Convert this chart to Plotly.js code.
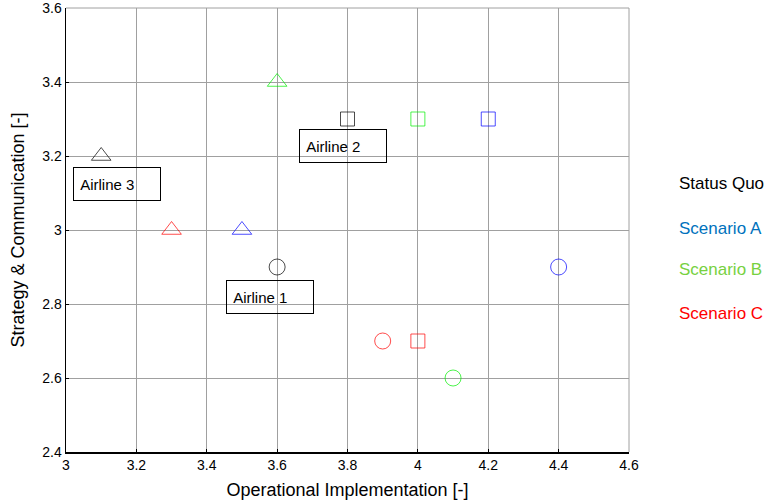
<!DOCTYPE html>
<html>
<head>
<meta charset="utf-8">
<script src="https://cdn.plot.ly/plotly-3.0.1.min.js"></script>
<style>html,body{margin:0;padding:0;background:#fff;}#chart{width:772px;height:503px;}</style>
</head>
<body>
<div id="chart"></div>
<script>
// Airlines: 1 = circle, 2 = square, 3 = triangle
var airlines = ["Airline 1", "Airline 2", "Airline 3"];
var symbols = ["circle-open", "square-open", "triangle-up-open"];
var seriesNames = ["Status Quo", "Scenario A", "Scenario B", "Scenario C"];
var markerColors = ["#000000", "#0000ff", "#00ee00", "#ff0000"];
var legendColors = ["#000000", "#0072BD", "#77d13f", "#ff0000"];

var statusQuoX = [3.6, 3.8, 3.1];
var statusQuoY = [2.9, 3.3, 3.2];
var scenarioAX = [4.4, 4.2, 3.5];
var scenarioAY = [2.9, 3.3, 3.0];
var scenarioBX = [4.1, 4.0, 3.6];
var scenarioBY = [2.6, 3.3, 3.4];
var scenarioCX = [3.9, 4.0, 3.3];
var scenarioCY = [2.7, 2.7, 3.0];

var labelX = [3.581, 3.787, 3.146];
var labelY = [2.82, 3.226, 3.123];

var xs = [statusQuoX, scenarioAX, scenarioBX, scenarioCX];
var ys = [statusQuoY, scenarioAY, scenarioBY, scenarioCY];

var traces = xs.map(function(x, i) {
  return {
    type: "scatter", mode: "markers", name: seriesNames[i],
    x: x, y: ys[i], text: airlines,
    marker: { symbol: symbols, size: [16, 14, 17], color: markerColors[i], line: { width: 1, color: markerColors[i] } },
    showlegend: false
  };
});

var FONT = "Liberation Sans, Arial, sans-serif";
var annotations = [];
airlines.forEach(function(a, i) {
  annotations.push({
    x: labelX[i], y: labelY[i], xref: "x", yref: "y", text: "&nbsp;" + a, showarrow: false,
    width: 82, height: 28, align: "left", bordercolor: "#000", borderwidth: 1, borderpad: 2,
    bgcolor: "rgba(255,255,255,0)",
    font: { family: FONT, size: 15, color: "#000" }
  });
});
var plotTop = 8, plotH = 444, plotL = 66, plotW = 563;
var legendPx = [184, 228, 269, 313];
seriesNames.forEach(function(s, i) {
  annotations.push({
    x: (677 - plotL) / plotW, y: 1 - (legendPx[i] - plotTop) / plotH,
    xref: "paper", yref: "paper", xanchor: "left", yanchor: "middle",
    text: s, showarrow: false,
    font: { family: FONT, size: 17, color: legendColors[i] }
  });
});

var layout = {
  width: 772, height: 503,
  margin: { l: 66, r: 143, t: 8, b: 51 },
  paper_bgcolor: "#fff", plot_bgcolor: "#fff",
  font: { family: FONT, size: 14, color: "#000" },
  xaxis: {
    range: [3, 4.6], dtick: 0.2, tick0: 3, showgrid: true, gridcolor: "#a0a0a0", gridwidth: 1,
    zeroline: false, showline: true, linecolor: "#000", linewidth: 1.5, mirror: false,
    ticks: "inside", ticklen: 3, tickcolor: "#000", ticklabeloverflow: "allow",
    tickfont: { size: 14 },
    title: { text: "Operational Implementation [-]", font: { size: 18 }, standoff: 11 }
  },
  yaxis: {
    range: [2.4, 3.6], dtick: 0.2, tick0: 2.4, showgrid: true, gridcolor: "#a0a0a0", gridwidth: 1,
    zeroline: false, showline: true, linecolor: "#000", linewidth: 1.5, mirror: false,
    ticks: "inside", ticklen: 3, tickcolor: "#000", ticklabeloverflow: "allow",
    tickfont: { size: 14 },
    title: { text: "Strategy & Communication [-]", font: { size: 18 }, standoff: 13 }
  },
  shapes: [
    { type: "line", xref: "paper", yref: "paper", x0: 0, x1: 1, y0: 1, y1: 1, line: { color: "#a0a0a0", width: 1 } },
    { type: "line", xref: "paper", yref: "paper", x0: 1, x1: 1, y0: 0, y1: 1, line: { color: "#a0a0a0", width: 1 } }
  ],
  annotations: annotations,
  showlegend: false
};

Plotly.newPlot("chart", traces, layout, { displayModeBar: false, staticPlot: true });
</script>
</body>
</html>
